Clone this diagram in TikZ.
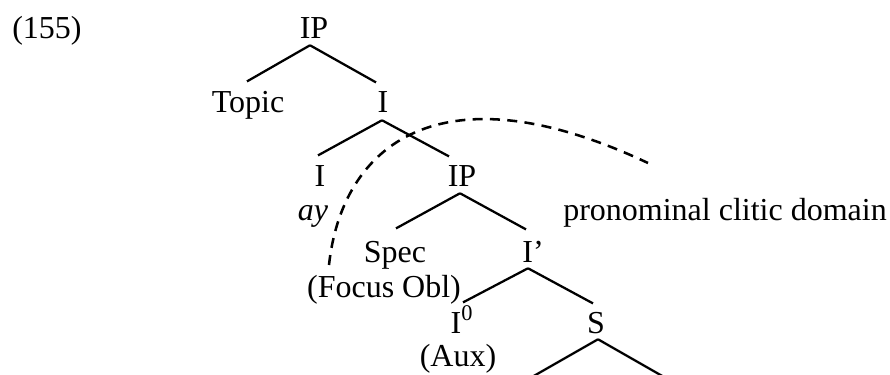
\documentclass[tikz,border=0pt]{standalone}
\usepackage{fontspec}
\setmainfont{Liberation Serif}
\begin{document}
\begin{tikzpicture}[x=0.75pt,y=-0.75pt,
  every node/.style={font=\fontsize{24pt}{28pt}\selectfont, inner sep=0pt},
  lab/.style={anchor=base, text height=16pt, text depth=0pt},
  free/.style={anchor=base},
  branch/.style={line width=1.7pt},
  cliticline/.style={line width=1.9pt, dash pattern=on 7.5pt off 5.5pt}]
\useasboundingbox (0,0) rectangle (890,375);
% labels
\node[free, anchor=base west] (ex) at (12,38) {(155)};
\node[lab] (IPa) at (314,38) {IP};
\node[lab] (Topic) at (248,112) {Topic};
\node[lab] (Ia) at (383,112) {I};
\node[lab] (Ib) at (320,186) {I};
\node[lab] (IPb) at (462,186) {IP};
\node[free] (ay) at (313,220) {\itshape ay};
\node[lab] (Spec) at (395,262) {Spec};
\node[lab] (Ibar) at (533,262) {I’};
\node[free] (focus) at (384,297) {(Focus Obl)};
\node[lab] (Izero) at (462,333) {I\textsuperscript{0}};
\node[lab] (S) at (596,333) {S};
\node[free] (aux) at (458,366) {(Aux)};
\node[free, anchor=base west] (pcd) at (563,220) {pronominal clitic domain};
% branches
\draw[branch] ([shift={(-4,7)}]IPa.south) -- ([shift={(-1,-9)}]Topic.north);
\draw[branch] ([shift={(-4,7)}]IPa.south) -- ([shift={(-7,-8)}]Ia.north);
\draw[branch] ([shift={(-1,8)}]Ia.south) -- ([shift={(-2,-9)}]Ib.north);
\draw[branch] ([shift={(-1,8)}]Ia.south) -- ([shift={(-13,-8)}]IPb.north);
\draw[branch] ([shift={(-2,7)}]IPb.south) -- ([shift={(1,-12)}]Spec.north);
\draw[branch] ([shift={(-2,7)}]IPb.south) -- ([shift={(-7,-11)}]Ibar.north);
\draw[branch] ([shift={(-5,6)}]Ibar.south) -- ([shift={(1,-9)}]Izero.north);
\draw[branch] ([shift={(-5,6)}]Ibar.south) -- ([shift={(-3,-8)}]S.north);
\coordinate (SL) at (532,377);
\coordinate (SR) at (664,377);
\draw[branch] ([shift={(2,6)}]S.south) -- (SL);
\draw[branch] ([shift={(2,6)}]S.south) -- (SR);
% dashed domain boundary
\coordinate (dA) at (329,265);
\coordinate (dB) at (648,163);
\draw[cliticline] (dA) .. controls (342,145) and (440,65) .. (dB);
\end{tikzpicture}
\end{document}
